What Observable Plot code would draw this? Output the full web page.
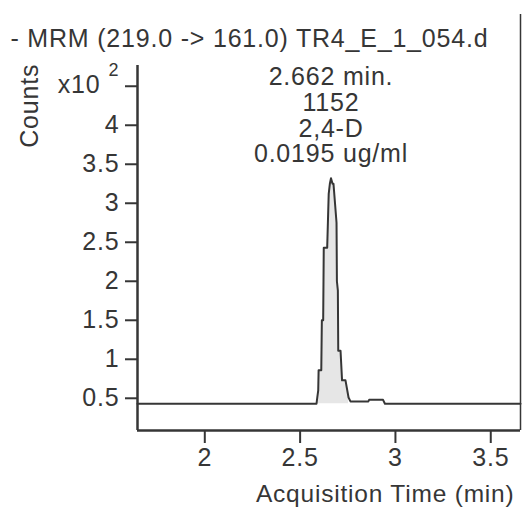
<!DOCTYPE html>
<html>
<head>
<meta charset="utf-8">
<script src="https://cdn.jsdelivr.net/npm/d3@7"></script>
<script src="https://cdn.jsdelivr.net/npm/@observablehq/plot@0.6"></script>
<style>
  html, body { margin: 0; padding: 0; background: #fff; }
</style>
</head>
<body>
<div id="chart"></div>
<script>
// ---- data ----
const title = "- MRM (219.0 -> 161.0) TR4_E_1_054.d";
const xLabel = "Acquisition Time (min)";
const yLabel = "Counts";
const yExponent = "2";
const xDomain = [1.647, 3.656];
const yDomain = [0.087, 4.766];
const xTicks = [2, 2.5, 3, 3.5];
const yTicks = [0.5, 1, 1.5, 2, 2.5, 3, 3.5, 4, 4.5];
// signal (Counts x10^2) vs acquisition time (min)
const time   = [1.647, 2.586, 2.590, 2.595, 2.597, 2.611, 2.614, 2.621, 2.624, 2.642, 2.650, 2.656, 2.662, 2.670, 2.675, 2.691, 2.693, 2.698, 2.700, 2.712, 2.720, 2.738, 2.754, 2.764, 2.858, 2.862, 2.935, 2.945, 3.656];
const counts = [0.43,  0.43,  0.51,  0.60,  0.86,  0.86,  1.50,  1.50,  2.43,  2.43,  3.12,  3.25,  3.32,  3.25,  3.25,  2.75,  2.00,  1.88,  1.11,  1.11,  0.73,  0.73,  0.51,  0.46,  0.46,  0.48,  0.48,  0.43,  0.43];
const baseline = 0.43;
const integration = [2.586, 2.754];
const peakTime = 2.662;
const peakArea = 1152;
const compound = "2,4-D";
const concentration = "0.0195 ug/ml";

// ---- build ----
const signal = time.map((t, i) => ({t, v: counts[i]}));
const peak = signal.filter(d => d.t >= integration[0] && d.t <= integration[1]);
const annotation = [`${peakTime.toFixed(3)} min.`, `${peakArea}`, compound, concentration].join("\n");
const ink = "#363636";
const fs = 25;

const chart = Plot.plot({
  width: 523,
  height: 508,
  marginTop: 65,
  marginBottom: 78,
  marginLeft: 137,
  marginRight: 3,
  style: {fontFamily: "'Liberation Sans', Arial, sans-serif", letterSpacing: "0.8px", color: ink, background: "#fff"},
  x: {domain: xDomain, axis: null},
  y: {domain: yDomain, axis: null},
  marks: [
    Plot.areaY(peak, {x: "t", y1: baseline, y2: "v", fill: "#e6e6e6"}),
    Plot.line(signal, {x: "t", y: "v", stroke: ink, strokeWidth: 2}),
    Plot.axisY({ticks: yTicks, tickSize: 12, tickPadding: 6, strokeWidth: 2, stroke: ink, fontSize: fs, fill: ink,
      tickFormat: d => d === 4.5 ? "" : String(d), label: null}),
    Plot.axisX({ticks: xTicks, tickSize: 13, tickPadding: 5, strokeWidth: 2, stroke: ink, fontSize: fs, fill: ink,
      tickFormat: d => String(d), label: null}),
    Plot.ruleX([xDomain[0]], {stroke: ink, strokeWidth: 2.5}),
    Plot.ruleY([yDomain[0]], {stroke: ink, strokeWidth: 2.5}),
    Plot.ruleX([xDomain[1]], {y1: yDomain[0], y2: 5.42, stroke: ink, strokeWidth: 1.5}),
    // x10^2 multiplier label
    Plot.text(["x10"], {x: xDomain[0], y: 4.5, text: d => d, textAnchor: "end", dx: -37, dy: -1, fontSize: fs, fill: ink}),
    Plot.text([yExponent], {x: xDomain[0], y: 4.5, text: d => d, textAnchor: "start", dx: -29, dy: -16, fontSize: 18, fill: ink}),
    // peak annotation
    Plot.text([annotation], {x: peakTime, y: 3.32, text: d => d, lineAnchor: "bottom", lineHeight: 1.03, dy: -16, fontSize: fs, fill: ink}),
    // title
    Plot.text([title], {frameAnchor: "top-left", text: d => d, textAnchor: "start", lineAnchor: "middle", dx: -127, dy: -27, fontSize: fs, fill: ink}),
    // y label
    Plot.text([yLabel], {x: xDomain[0], y: 4.25, text: d => d, rotate: -90, lineAnchor: "middle", dx: -108, fontSize: fs, fill: ink}),
    // x label
    Plot.text([xLabel], {frameAnchor: "bottom-right", text: d => d, textAnchor: "end", lineAnchor: "middle", dx: -6, dy: 64, fontSize: 24.5, fill: ink})
  ]
});
document.getElementById("chart").appendChild(chart);
</script>
</body>
</html>
